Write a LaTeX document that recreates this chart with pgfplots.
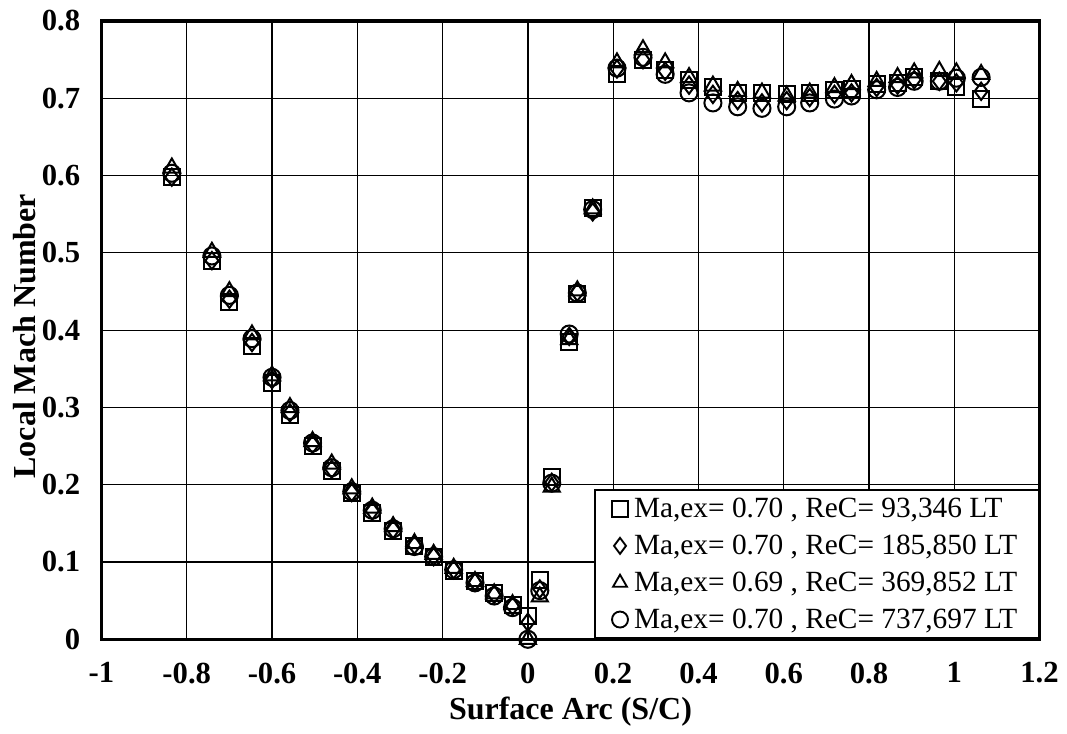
\documentclass[border=0pt]{standalone}
\usepackage{fontspec}
\setmainfont{Liberation Serif}
\usepackage{pgfplots}
\usepackage{pgfplotstable}
\pgfplotsset{compat=1.18}

\pgfplotstableread{
x      sq     di     tr     ci
-0.835 0.598  0.598  0.610  0.603
-0.741 0.489  0.490  0.501  0.496
-0.700 0.437  0.440  0.450  0.445
-0.647 0.379  0.384  0.394  0.389
-0.600 0.332  0.336  0.341  0.339
-0.558 0.290  0.293  0.300  0.296
-0.505 0.250  0.252  0.256  0.254
-0.460 0.218  0.220  0.227  0.222
-0.413 0.189  0.190  0.195  0.191
-0.365 0.164  0.166  0.170  0.167
-0.316 0.140  0.142  0.146  0.143
-0.266 0.121  0.122  0.124  0.120
-0.221 0.106  0.107  0.110  0.107
-0.174 0.089  0.090  0.092  0.090
-0.124 0.075  0.074  0.075  0.073
-0.079 0.060  0.058  0.059  0.056
-0.036 0.044  0.043  0.045  0.041
0.000  0.030  0.022  0.000  0.000
0.028  0.077  0.065  0.055  0.063
0.056  0.210  0.203  0.197  0.202
0.097  0.385  0.392  0.388  0.395
0.116  0.447  0.449  0.451  0.448
0.152  0.558  0.553  0.557  0.556
0.209  0.731  0.738  0.746  0.739
0.270  0.749  0.750  0.763  0.753
0.322  0.737  0.735  0.746  0.731
0.378  0.724  0.717  0.727  0.707
0.434  0.714  0.705  0.716  0.694
0.492  0.707  0.697  0.709  0.689
0.549  0.707  0.694  0.707  0.687
0.607  0.705  0.697  0.703  0.689
0.661  0.707  0.701  0.707  0.694
0.719  0.711  0.705  0.714  0.699
0.759  0.712  0.707  0.718  0.703
0.818  0.718  0.714  0.722  0.711
0.867  0.720  0.717  0.727  0.714
0.906  0.727  0.724  0.733  0.722
0.965  0.722  0.722  0.735  0.722
1.005  0.714  0.720  0.733  0.726
1.063  0.699  0.709  0.731  0.727
}\datatable

\begin{document}
\begin{tikzpicture}
\fill[white] (-76.1pt,-71pt) rectangle (724.1pt,479.45pt);
\begin{axis}[
  name=ax,
  at={(0,0)}, anchor=south west,
  scale only axis,
  width=703.5pt, height=463.7pt,
  xmin=-1, xmax=1.2, ymin=0, ymax=0.8,
  xtick={-1,-0.8,-0.6,-0.4,-0.2,0,0.2,0.4,0.6,0.8,1,1.2},
  xticklabels={-1,-0.8,-0.6,-0.4,-0.2,0,0.2,0.4,0.6,0.8,1,1.2},
  ytick={0,0.1,0.2,0.3,0.4,0.5,0.6,0.7,0.8},
  yticklabels={0,0.1,0.2,0.3,0.4,0.5,0.6,0.7,0.8},
  grid=major,
  major grid style={black, line width=0.95pt},
  axis line style={line width=2.5pt},
  major tick length=0pt,
  tick label style={font=\fontsize{23}{26}\selectfont\bfseries},
  xticklabel style={yshift=-14pt},
  yticklabel style={xshift=-12.5pt},
  xlabel={Surface Arc (S/C)},
  ylabel={Local Mach Number},
  label style={font=\fontsize{24}{28}\selectfont\bfseries},
  xlabel style={at={(axis description cs:0.5,-0.1176)}, anchor=center},
  ylabel style={at={(axis description cs:-0.0816,0.49)}, anchor=center},
  legend style={at={(1,0)}, anchor=south east, draw=black, line width=1.5pt,
    font=\fontsize{22}{24}\selectfont, inner xsep=3pt, inner ysep=4pt,
    row sep=7.5pt, cells={anchor=west}},
  legend cell align=left,
  legend image code/.code={\path[draw=none,fill=none] (0pt,0pt) -- (24pt,0pt);
    \draw[#1, mark size=6pt, line width=1.4pt] plot coordinates {(15.5pt,0pt)};},
  clip=false,
]
\addplot[only marks, black, mark=square, mark size=6pt, line width=1.5pt] table[x=x,y=sq] {\datatable};
\addlegendentry{Ma,ex= 0.70 , ReC= 93,346 LT\kern11pt}
\addplot[only marks, black, mark=diamond, mark size=6.5pt, line width=1.5pt] table[x=x,y=di] {\datatable};
\addlegendentry{Ma,ex= 0.70 , ReC= 185,850 LT\kern11pt}
\addplot[only marks, black, mark=triangle, mark size=7pt, line width=1.5pt] table[x=x,y=tr] {\datatable};
\addlegendentry{Ma,ex= 0.69 , ReC= 369,852 LT\kern11pt}
\addplot[only marks, black, mark=o, mark size=6.4pt, line width=1.5pt] table[x=x,y=ci] {\datatable};
\addlegendentry{Ma,ex= 0.70 , ReC= 737,697 LT\kern11pt}
\end{axis}
\pgfresetboundingbox
\path[use as bounding box] (-76.1pt,-71pt) rectangle (724.1pt,479.45pt);
\end{tikzpicture}
\end{document}
